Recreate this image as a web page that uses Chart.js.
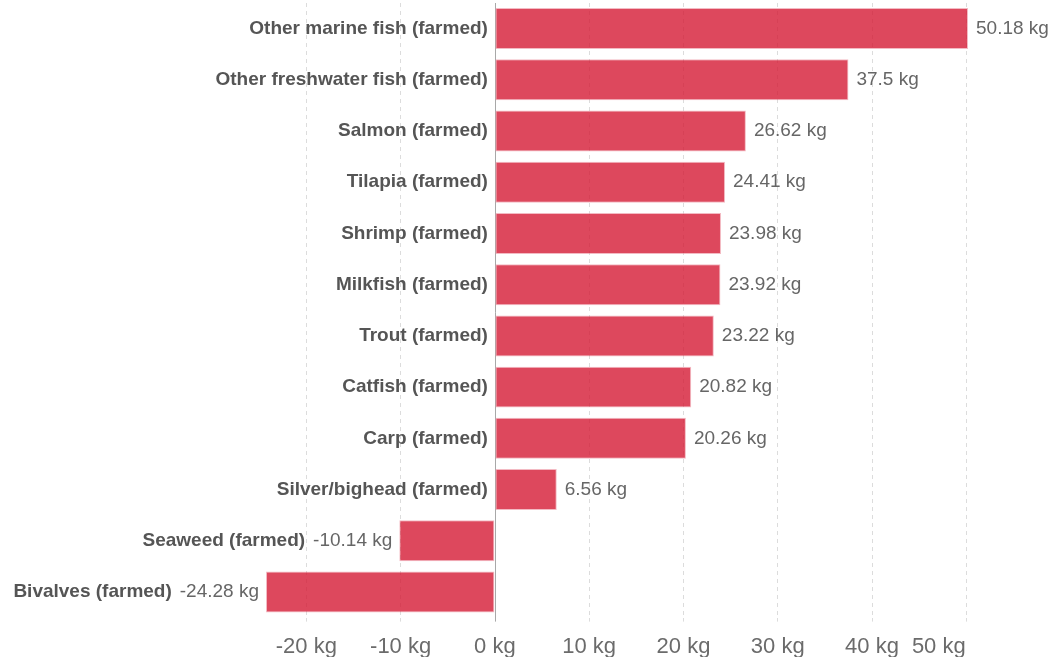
<!DOCTYPE html>
<html>
<head>
<meta charset="utf-8">
<script src="https://cdn.jsdelivr.net/npm/chart.js@4"></script>
<style>
  html, body { margin: 0; padding: 0; background: #fff; }
  #wrap { width: 1055px; height: 657px; }
</style>
</head>
<body>
<div id="wrap"><canvas id="chart" width="1055" height="657"></canvas></div>
<script>
// Change per kg, by farmed seafood type
const categories = [
  'Other marine fish (farmed)',
  'Other freshwater fish (farmed)',
  'Salmon (farmed)',
  'Tilapia (farmed)',
  'Shrimp (farmed)',
  'Milkfish (farmed)',
  'Trout (farmed)',
  'Catfish (farmed)',
  'Carp (farmed)',
  'Silver/bighead (farmed)',
  'Seaweed (farmed)',
  'Bivalves (farmed)',
];
const values = [50.18, 37.5, 26.62, 24.41, 23.98, 23.92, 23.22, 20.82, 20.26, 6.56, -10.14, -24.28];
const tickValues = [-20, -10, 0, 10, 20, 30, 40, 50];

const FONT = "'Liberation Sans', Arial, Helvetica, sans-serif";
const BAR = 'rgba(213, 26, 52, 0.8)';

// category + value labels sit next to each bar (labels move left of negative bars)
const barLabels = {
  id: 'barLabels',
  beforeDatasetsDraw(chart) {
    const { ctx, chartArea } = chart;
    const x = chart.scales.x.getPixelForValue(0);
    ctx.save();
    ctx.strokeStyle = '#a8a8a8';
    ctx.lineWidth = 1;
    ctx.beginPath();
    ctx.moveTo(Math.round(x) + 0.5, chartArea.top);
    ctx.lineTo(Math.round(x) + 0.5, chartArea.bottom + 4);
    ctx.stroke();
    ctx.restore();
  },
  afterDatasetsDraw(chart) {
    const { ctx } = chart;
    const xs = chart.scales.x;
    const zero = xs.getPixelForValue(0);
    const meta = chart.getDatasetMeta(0);
    ctx.save();
    ctx.textBaseline = 'middle';
    meta.data.forEach((bar, i) => {
      const v = values[i];
      const y = bar.y;
      const valText = v + ' kg';
      ctx.font = '19px ' + FONT;
      ctx.fillStyle = '#666';
      if (v >= 0) {
        ctx.textAlign = 'left';
        ctx.fillText(valText, bar.x + 8, y);
        ctx.font = 'bold 19px ' + FONT;
        ctx.fillStyle = '#555';
        ctx.textAlign = 'right';
        ctx.fillText(categories[i], zero - 7, y);
      } else {
        ctx.textAlign = 'right';
        ctx.fillText(valText, bar.x - 7, y);
        const w = ctx.measureText(valText).width;
        ctx.font = 'bold 19px ' + FONT;
        ctx.fillStyle = '#555';
        ctx.fillText(categories[i], bar.x - 7 - w - 8, y);
      }
    });
    ctx.restore();
  },
};

new Chart(document.getElementById('chart'), {
  type: 'bar',
  data: {
    labels: categories,
    datasets: [{
      data: values,
      backgroundColor: BAR,
      borderColor: 'rgba(235, 140, 155, 0.6)',
      borderWidth: 1,
      borderSkipped: false,
      barPercentage: 1,
      categoryPercentage: 0.8,
    }],
  },
  options: {
    indexAxis: 'y',
    responsive: false,
    animation: false,
    layout: { padding: { left: 266, right: 87, top: 3, bottom: -15 } },
    plugins: {
      legend: { display: false },
      tooltip: { enabled: false },
    },
    scales: {
      y: { display: false },
      x: {
        min: Math.min(...values),
        max: Math.max(...values),
        afterBuildTicks: (scale) => {
          scale.ticks = tickValues.map(v => ({ value: v }));
        },
        grid: {
          color: (c) => (c.tick && c.tick.value === 0 ? 'rgba(0,0,0,0)' : '#dcdcdc'),
          tickLength: 4,
          drawTicks: true,
        },
        border: { display: false, dash: [4, 4] },
        ticks: {
          padding: 12,
          color: '#6b6b6b',
          font: { family: FONT, size: 22 },
          maxRotation: 0,
          autoSkip: false,
          // last label is pulled inside the plot edge, as in the original
          callback: (v) => (v === 50 ? '50 kg' + '\u0020'.repeat(9) : v + ' kg'),
        },
      },
    },
  },
  plugins: [barLabels],
});
</script>
</body>
</html>
